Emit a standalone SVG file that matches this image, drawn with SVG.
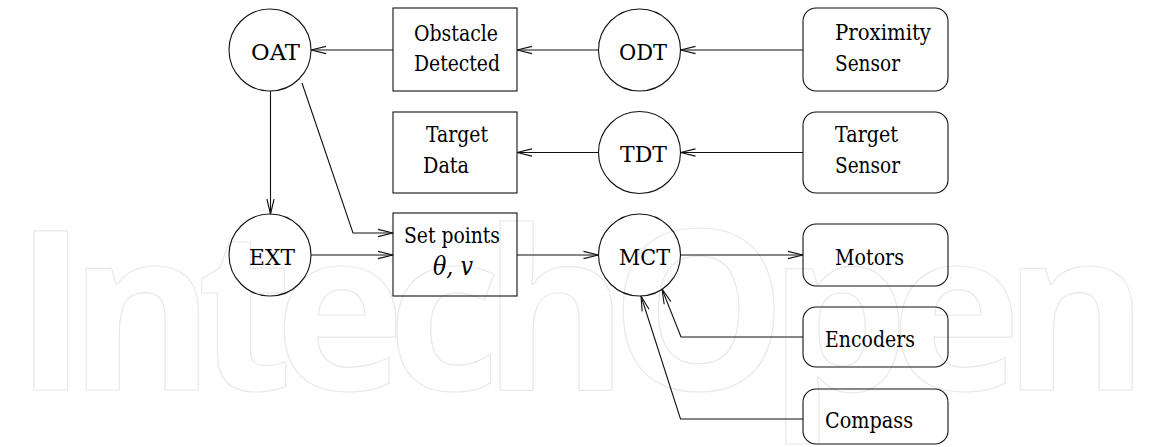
<svg xmlns="http://www.w3.org/2000/svg" width="1151" height="447" viewBox="0 0 1151 447">
<defs>
<style>
.shape{fill:none;stroke:#111;stroke-width:1.1}
.lbl{font-family:'DejaVu Serif','Noto Serif',serif;font-size:23px;fill:#000}
.math{font-family:'DejaVu Serif','Noto Serif',serif;font-style:italic;font-size:26px;fill:#000}
.conn{fill:none;stroke:#111;stroke-width:1.1}
.wm{font-family:'Open Sans',sans-serif;font-weight:700;font-size:222px;fill:none;stroke:#e9e9e9;stroke-width:1.2}
</style>
<marker id="arr" markerUnits="userSpaceOnUse" markerWidth="20" markerHeight="12" viewBox="-16 -6 17 12" refX="0" refY="0" orient="auto" overflow="visible">
<path d="M-15,-3.6 L0,0 L-15,3.6" fill="none" stroke="#111" stroke-width="1.1"/>
</marker>
</defs>
<rect width="1151" height="447" fill="#fff"/>
<text class="wm" x="14" y="390" textLength="1135" lengthAdjust="spacing">IntechOpen</text>

<g id="connectors">
<line class="conn" x1="393" y1="50" x2="311" y2="50" marker-end="url(#arr)"/>
<line class="conn" x1="598.5" y1="50" x2="517" y2="50" marker-end="url(#arr)"/>
<line class="conn" x1="803" y1="50" x2="680.5" y2="50" marker-end="url(#arr)"/>
<line class="conn" x1="598.5" y1="152.5" x2="517" y2="152.5" marker-end="url(#arr)"/>
<line class="conn" x1="803" y1="152.5" x2="680.5" y2="152.5" marker-end="url(#arr)"/>
<line class="conn" x1="270.5" y1="91" x2="270.5" y2="214" marker-end="url(#arr)"/>
<polyline class="conn" points="302,83 353,233 393,233" marker-end="url(#arr)"/>
<line class="conn" x1="311" y1="255" x2="393" y2="255" marker-end="url(#arr)"/>
<line class="conn" x1="517" y1="255" x2="598.5" y2="255" marker-end="url(#arr)"/>
<line class="conn" x1="680.5" y1="255" x2="803" y2="255" marker-end="url(#arr)"/>
<polyline class="conn" points="803,337 681,337 662,289" marker-end="url(#arr)"/>
<polyline class="conn" points="803,419 680.5,419 641,296" marker-end="url(#arr)"/>
</g>

<g id="OAT"><circle class="shape" cx="270" cy="50" r="41"/><text class="lbl" x="251" y="60" textLength="49" lengthAdjust="spacingAndGlyphs">OAT</text></g>
<g id="ObstacleDetected"><rect class="shape" x="393" y="8" width="124" height="83"/><text class="lbl" x="414" y="41" textLength="84" lengthAdjust="spacingAndGlyphs">Obstacle</text><text class="lbl" x="414" y="71" textLength="86" lengthAdjust="spacingAndGlyphs">Detected</text></g>
<g id="ODT"><circle class="shape" cx="639.5" cy="50" r="41"/><text class="lbl" x="619" y="60" textLength="48" lengthAdjust="spacingAndGlyphs">ODT</text></g>
<g id="ProximitySensor"><rect class="shape" x="803" y="8" width="145" height="83" rx="13"/><text class="lbl" x="835" y="40" textLength="96" lengthAdjust="spacingAndGlyphs">Proximity</text><text class="lbl" x="835" y="71" textLength="65" lengthAdjust="spacingAndGlyphs">Sensor</text></g>
<g id="TargetData"><rect class="shape" x="393" y="112" width="124" height="81"/><text class="lbl" x="426" y="142" textLength="62" lengthAdjust="spacingAndGlyphs">Target</text><text class="lbl" x="423" y="173" textLength="46" lengthAdjust="spacingAndGlyphs">Data</text></g>
<g id="TDT"><circle class="shape" cx="639.5" cy="152.5" r="41"/><text class="lbl" x="620" y="162" textLength="47" lengthAdjust="spacingAndGlyphs">TDT</text></g>
<g id="TargetSensor"><rect class="shape" x="803" y="112" width="145" height="81" rx="13"/><text class="lbl" x="835" y="142" textLength="63" lengthAdjust="spacingAndGlyphs">Target</text><text class="lbl" x="835" y="173" textLength="65" lengthAdjust="spacingAndGlyphs">Sensor</text></g>
<g id="EXT"><circle class="shape" cx="270" cy="255" r="41"/><text class="lbl" x="249" y="265" textLength="46" lengthAdjust="spacingAndGlyphs">EXT</text></g>
<g id="SetPoints"><rect class="shape" x="393" y="213" width="124" height="83"/><text class="lbl" x="404" y="243" textLength="96" lengthAdjust="spacingAndGlyphs">Set points</text><text class="math" x="433" y="275" textLength="40" lengthAdjust="spacingAndGlyphs">θ, v</text></g>
<g id="MCT"><circle class="shape" cx="639.5" cy="255" r="41"/><text class="lbl" x="619" y="265" textLength="51" lengthAdjust="spacingAndGlyphs">MCT</text></g>
<g id="Motors"><rect class="shape" x="803" y="224" width="145" height="62" rx="13"/><text class="lbl" x="835" y="265" textLength="69" lengthAdjust="spacingAndGlyphs">Motors</text></g>
<g id="Encoders"><rect class="shape" x="803" y="307" width="145" height="60" rx="13"/><text class="lbl" x="825" y="347" textLength="90" lengthAdjust="spacingAndGlyphs">Encoders</text></g>
<g id="Compass"><rect class="shape" x="803" y="389" width="145" height="55" rx="13"/><text class="lbl" x="825" y="428" textLength="88" lengthAdjust="spacingAndGlyphs">Compass</text></g>
</svg>
